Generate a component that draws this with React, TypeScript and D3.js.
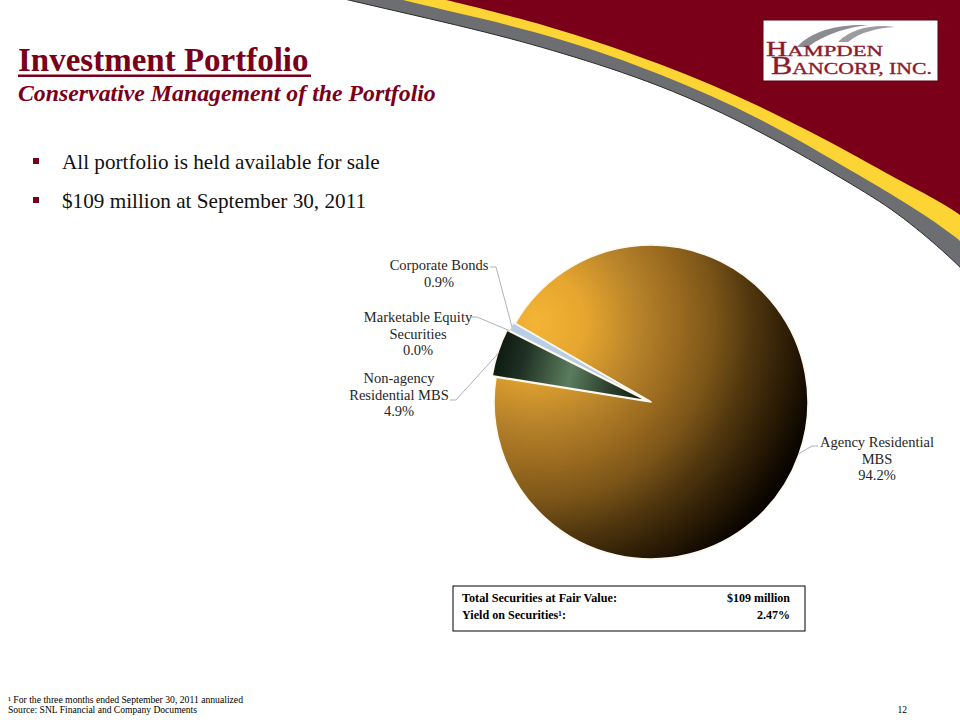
import React from "react";
import * as d3 from "d3";

// ---- Data ----
const categories = [
  "Agency Residential MBS",
  "Non-agency Residential MBS",
  "Marketable Equity Securities",
  "Corporate Bonds",
];
const values = [94.2, 4.9, 0.0, 0.9];
const labelLines = [
  ["Agency Residential", "MBS"],
  ["Non-agency", "Residential MBS"],
  ["Marketable Equity", "Securities"],
  ["Corporate Bonds"],
];
const bullets = ["All portfolio is held available for sale", "$109 million at September 30, 2011"];
const tableRows = [
  ["Total Securities at Fair Value:", "$109 million"],
  ["Yield on Securities\u00B9:", "2.47%"],
];
const footnotes = [
  "\u00B9 For the three months ended September 30, 2011 annualized",
  "Source: SNL Financial and Company Documents",
];
const pageNumber = "12";

// ---- Layout / style (not data) ----
const W = 960;
const H = 720;
const MAROON = "#7a0019";
const cx = 651;
const cy = 402;
const R = 157;
const explode = [0, 4, 2, 2];
const labelLayout = [
  { x: 877, y: 447, elbow: [812, 446], end: [818, 446] },
  { x: 399, y: 383, elbow: [456, 400], end: [450, 400] },
  { x: 418, y: 322, elbow: [477, 317], end: [471, 317] },
  { x: 439, y: 270, elbow: [496, 267], end: [490, 267] },
];
const fills = ["url(#gAgency)", "url(#gNon)", "#b9cde5", "#b9cde5"];

const whitePts: [number, number][] = [[300, -12], [347, 0], [480, 30], [560, 52], [660, 84], [760, 130], [860, 189], [900, 214], [960, 265], [990, 300]];
const grayPts: [number, number][] = [[355, -12], [402, 0], [480, 18], [560, 38], [660, 73], [760, 117], [860, 176], [900, 199], [960, 238], [990, 270]];
const yellowPts: [number, number][] = [[400, -12], [445, 0], [480, 8], [560, 29], [660, 63], [760, 105], [860, 158], [900, 181], [960, 212], [990, 240]];

const curve = d3.line<[number, number]>().x((d) => d[0]).y((d) => d[1]).curve(d3.curveBasis);
const regionAbove = (pts: [number, number][]) => {
  const l = curve(pts) as string;
  return `${l} L990,-12 Z`;
};

export default function App() {
  const start = (-60 * Math.PI) / 180;
  const pie = d3
    .pie<number>()
    .sort(null)
    .value((d) => d)
    .startAngle(start)
    .endAngle(start + 2 * Math.PI);
  const arcs = pie(values);
  const arcGen = d3.arc<d3.PieArcDatum<number>>().innerRadius(0).outerRadius(R);
  const fmt = d3.format(".1f");

  const pointAt = (a: number, r: number): [number, number] => [cx + r * Math.sin(a), cy - r * Math.cos(a)];

  return (
    <svg width={W} height={H} style={{ position: "fixed", left: 0, top: 0, background: "#fff" }} fontFamily="'Liberation Serif', 'Times New Roman', serif">
      <defs>
        {/* gradient coordinates are relative to the pie centre */}
        <radialGradient id="gAgency" gradientUnits="userSpaceOnUse" cx={-115} cy={-80} r={290} fx={-115} fy={-80}>
          <stop offset="0" stopColor="#f4b435" />
          <stop offset="0.17" stopColor="#e6a62f" />
          <stop offset="0.35" stopColor="#b8832a" />
          <stop offset="0.5" stopColor="#98691f" />
          <stop offset="0.62" stopColor="#7a5418" />
          <stop offset="0.75" stopColor="#4e350e" />
          <stop offset="0.88" stopColor="#2a1b05" />
          <stop offset="1" stopColor="#0a0500" />
        </radialGradient>
        <linearGradient id="gNon" gradientUnits="userSpaceOnUse" x1={-158} y1={-40} x2={0} y2={0}>
          <stop offset="0" stopColor="#0b150d" />
          <stop offset="0.2" stopColor="#1f3022" />
          <stop offset="0.5" stopColor="#5b7c5e" />
          <stop offset="0.75" stopColor="#2c402e" />
          <stop offset="1" stopColor="#0e1a10" />
        </linearGradient>
      </defs>
      <rect x={0} y={0} width={W} height={H} fill="#fff" />

      {/* header swoosh */}
      <path d={regionAbove(whitePts)} fill="#6d6e71" />
      <path d={curve(whitePts) as string} fill="none" stroke="#2a2a2a" strokeWidth={1} />
      <path d={regionAbove(grayPts)} fill="#fcd535" />
      <path d={regionAbove(yellowPts)} fill={MAROON} />

      {/* logo */}
      <g>
        <rect x={763} y={20} width={175} height={61} fill="#fff" stroke="#5a0010" strokeWidth={1} />
        <path d="M797,47 C812,30 840,24 868,25 C850,27 826,33 808,47 Z" fill="#8a8c8f" />
        <path d="M838,42 C852,28 875,24 895,27 C878,28 860,32 848,42 Z" fill="#9a9c9f" />
        <text fill="#8b1a2e" stroke="#8b1a2e" strokeWidth={0.35}>
          <tspan x={766} y={56} textLength={117} lengthAdjust="spacingAndGlyphs">
            <tspan fontSize={20}>H</tspan>
            <tspan fontSize={15.5}>AMPDEN</tspan>
          </tspan>
          <tspan x={771} y={74} textLength={161} lengthAdjust="spacingAndGlyphs">
            <tspan fontSize={25}>B</tspan>
            <tspan fontSize={17}>ANCORP, INC.</tspan>
          </tspan>
        </text>
      </g>

      {/* title */}
      <text x={18} y={71} fontSize={33} fontWeight="bold" fill={MAROON}>
        Investment Portfolio
      </text>
      <rect x={18} y={74.5} width={293} height={2.5} fill={MAROON} />
      <text x={18} y={101} fontSize={23.8} fontWeight="bold" fontStyle="italic" fill={MAROON}>
        Conservative Management of the Portfolio
      </text>

      {/* bullets */}
      {bullets.map((b, i) => (
        <g key={b}>
          <rect x={33} y={158 + i * 39} width={6} height={6} fill={MAROON} />
          <text x={62} y={169 + i * 39} fontSize={21.2} fill="#111">
            {b}
          </text>
        </g>
      ))}

      {/* pie */}
      <g>
        {arcs.map((a, i) => {
          const mid = (a.startAngle + a.endAngle) / 2;
          const dx = explode[i] * Math.sin(mid);
          const dy = -explode[i] * Math.cos(mid);
          if (a.endAngle - a.startAngle <= 0) return null;
          return (
            <path
              key={categories[i]}
              d={arcGen(a) as string}
              transform={`translate(${cx + dx},${cy + dy})`}
              fill={fills[i]}
              stroke="#fdf8ee"
              strokeWidth={1.6}
              strokeLinejoin="round"
            />
          );
        })}
      </g>

      {/* labels */}
      {arcs.map((a, i) => {
        const mid = (a.startAngle + a.endAngle) / 2;
        const p = pointAt(mid, R + explode[i] - 1);
        const L = labelLayout[i];
        const lines = [...labelLines[i], `${fmt(values[i])}%`];
        return (
          <g key={`lab-${categories[i]}`}>
            <polyline
              points={`${p[0]},${p[1]} ${L.elbow[0]},${L.elbow[1]} ${L.end[0]},${L.end[1]}`}
              fill="none"
              stroke="#a9b3bd"
              strokeWidth={1}
            />
            <text x={L.x} y={L.y} fontSize={14.5} fill="#262626" textAnchor="middle">
              {lines.map((t, j) => (
                <tspan key={j} x={L.x} dy={j === 0 ? 0 : 16.7}>
                  {t}
                </tspan>
              ))}
            </text>
          </g>
        );
      })}

      {/* table */}
      <rect x={453} y={586} width={352} height={45} fill="#fff" stroke="#000" strokeWidth={1} />
      {tableRows.map((r, i) => (
        <g key={r[0]}>
          <text x={462} y={602 + i * 17} fontSize={12} fontWeight="bold" fill="#000" textLength={i === 0 ? 155 : 104} lengthAdjust="spacingAndGlyphs">
            {r[0]}
          </text>
          <text x={790} y={602 + i * 17} fontSize={12} fontWeight="bold" fill="#000" textAnchor="end">
            {r[1]}
          </text>
        </g>
      ))}

      {/* footnotes */}
      <text x={8} y={703} fontSize={9.5} fill="#000" textLength={235} lengthAdjust="spacingAndGlyphs">
        {footnotes[0]}
      </text>
      <text x={8} y={712.5} fontSize={9.5} fill="#000" textLength={189} lengthAdjust="spacingAndGlyphs">
        {footnotes[1]}
      </text>
      <text x={907} y={712.5} fontSize={9.5} fill="#000" textAnchor="end">
        {pageNumber}
      </text>
    </svg>
  );
}
